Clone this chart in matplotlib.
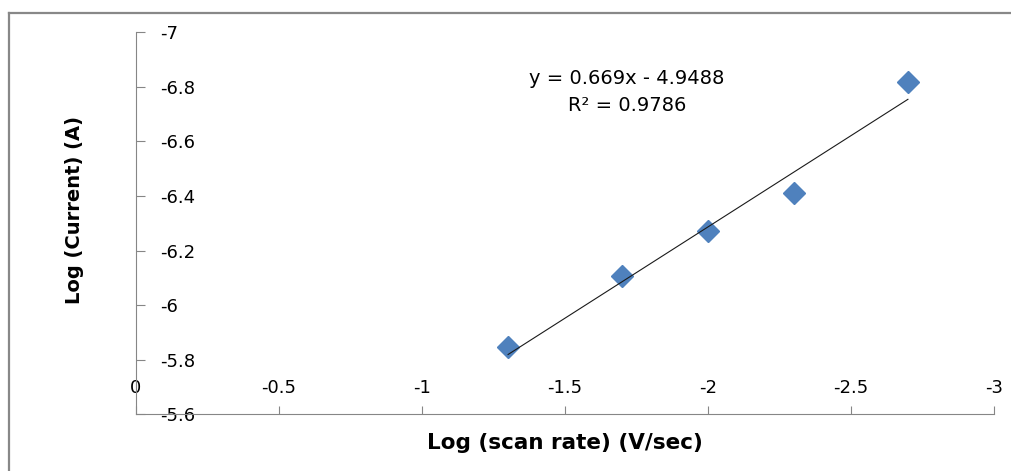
import matplotlib
matplotlib.use('Agg')
import matplotlib.pyplot as plt
from matplotlib.lines import Line2D

# log of scan rate (V/sec) and log of peak current (A)
log_scan_rate = [-1.301, -1.699, -2.0, -2.301, -2.699]
log_current = [-5.845, -6.108, -6.270, -6.410, -6.817]

# linear fit from the worksheet
slope = 0.669
intercept = -4.9488
r_squared = 0.9786

x_ticks = [0, -0.5, -1, -1.5, -2, -2.5, -3]
y_ticks = [-7, -6.8, -6.6, -6.4, -6.2, -6, -5.8, -5.6]

plt.rcParams['font.family'] = 'DejaVu Sans'
axis_grey = '#868686'

fig = plt.figure(figsize=(10.11, 4.71), dpi=100)
ax = fig.add_axes([0.1345, 0.1204, 0.8487, 0.8110])

ax.plot(log_scan_rate, log_current, linestyle='none', marker='D', markersize=11.5,
        color='#4F81BD', zorder=3)

# trend line over the data range
fit_x = [log_scan_rate[0], log_scan_rate[-1]]
fit_y = [slope * x + intercept for x in fit_x]
ax.plot(fit_x, fit_y, color='#1a1a1a', linewidth=0.8, zorder=4)

ax.text(-1.717, -6.781, 'y = %gx - %g\nR² = %g' % (slope, -intercept, r_squared),
        ha='center', va='center', fontsize=14, linespacing=1.48)

# both axes run in reverse order
ax.set_xlim(0, -3)
ax.set_ylim(-5.6, -7)
ax.set_xticks(x_ticks)
ax.set_xticklabels([('%g' % t) for t in x_ticks])
ax.set_yticks(y_ticks)
ax.set_yticklabels([('%g' % t) for t in y_ticks])

for side in ['top', 'right']:
    ax.spines[side].set_visible(False)
for side in ['left', 'bottom']:
    ax.spines[side].set_color(axis_grey)
    ax.spines[side].set_linewidth(0.8)

ax.tick_params(axis='x', direction='in', length=5.8, width=0.8, color=axis_grey,
               labelsize=13, pad=-15.1)
ax.tick_params(axis='y', direction='in', length=6.5, width=0.8, color=axis_grey,
               labelsize=13, pad=-17.3)
for lab in ax.get_xticklabels():
    lab.set_verticalalignment('baseline')
for lab in ax.get_yticklabels():
    lab.set_horizontalalignment('left')

fig.text(565 / 1011, 1 - 443 / 471, 'Log (scan rate) (V/sec)', ha='center', va='center',
         fontsize=15.5, fontweight='bold')
fig.text(74 / 1011, 1 - 210 / 471, 'Log (Current) (A)', ha='center', va='center',
         rotation=90, fontsize=14, fontweight='bold')

# chart area border (left and top edges)
fig.add_artist(Line2D([9 / 1011, 9 / 1011], [0, 1 - 13 / 471], color='#888888', linewidth=1.6))
fig.add_artist(Line2D([9 / 1011, 1], [1 - 13 / 471, 1 - 13 / 471], color='#888888', linewidth=1.6))

fig.savefig('out.png', dpi=100)
